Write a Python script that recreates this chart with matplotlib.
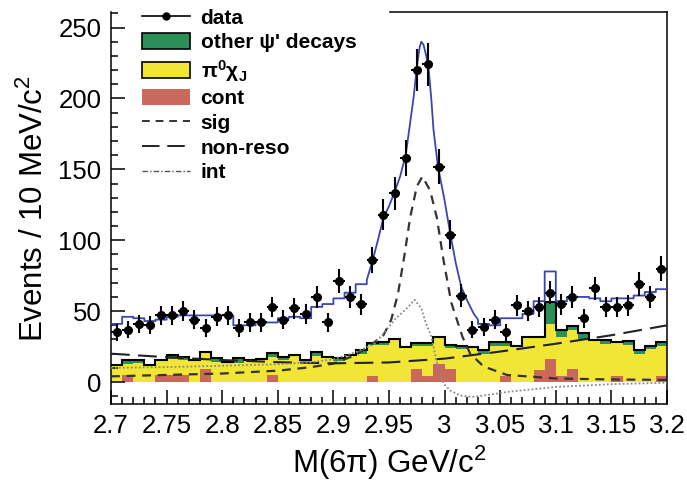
import numpy as np
import matplotlib
matplotlib.use("Agg")
import matplotlib.pyplot as plt
from matplotlib.ticker import MultipleLocator, FuncFormatter
from matplotlib.lines import Line2D
from matplotlib.patches import Patch

plt.rcParams['font.family'] = ['Liberation Sans', 'DejaVu Sans']
plt.rcParams['mathtext.fontset'] = 'custom'
plt.rcParams['mathtext.rm'] = 'Liberation Sans'
plt.rcParams['mathtext.it'] = 'Liberation Sans:italic'
plt.rcParams['mathtext.bf'] = 'Liberation Sans:bold'

# 10 MeV bins, 2.70 - 3.20 GeV
bin_edges = np.round(np.arange(2.70, 3.2001, 0.01), 3)
bin_centers = bin_edges[:-1] + 0.005

data_counts = [35, 37, 41, 40, 47, 47, 50, 44, 38, 46,
               47, 38, 42, 42, 53, 44, 52, 48, 60, 42,
               71, 60, 55, 86, 118, 133, 158, 220, 224, 152,
               104, 61, 37, 39, 44, 35, 54, 50, 53, 63,
               55, 60, 45, 66, 53, 53, 54, 69, 60, 80]

# stacked background histograms (bottom to top)
cont = [0, 5, 0, 0, 5, 5, 5, 0, 9, 0,
        0, 0, 0, 0, 5, 0, 0, 0, 0, 0,
        0, 0, 0, 4, 0, 0, 0, 9, 4, 12.5,
        9, 0, 0, 0, 0, 4, 0, 0, 8.5, 16,
        4, 9, 0, 0, 0, 4, 0, 0, 0, 4]
pi0_chi = [11, 8, 13.5, 11, 10.5, 11, 10.5, 15.5, 12.4, 14.3,
           14.3, 13.6, 15.5, 16, 13, 15.5, 19, 15.5, 18.5, 17.8,
           15, 19, 19.7, 22, 26, 30, 24, 16.6, 21.6, 19.5,
           15, 23.5, 25, 19.5, 25.4, 21.4, 25.4, 31.5, 23, 25,
           27.9, 27.6, 30, 29.6, 26.8, 24, 26, 20, 23, 21.6]
other_psi = [1, 2.5, 2, 1, 0, 3, 2.3, 0, 0, 2.4,
             0, 3.1, 0, 0, 2.8, 2.3, 0, 0, 2.4, 0,
             1.7, 0, 2.6, 1.5, 2.4, 0.5, 1, 2.1, 2.1, 0,
             2, 1.9, 0, 3, 3, 3, 0, 0, 0, 15.5,
             4.7, 2.8, 4.5, 0, 2.8, 0, 2.9, 2.3, 2.4, 2.8]

# total fit (blue): per-bin values outside the peak, curve through the peak
fit_left = [41, 46, 45, 43, 44, 46, 47, 47, 47, 47,
            47, 40, 40, 42, 42, 45, 46, 45, 53, 55,
            59, 63, 69]
fit_peak_x = [2.930, 2.935, 2.940, 2.945, 2.950, 2.955, 2.960, 2.965, 2.972,
              2.975, 2.9775, 2.979, 2.981, 2.9835, 2.9855, 2.988, 2.990,
              2.994, 3.000, 3.005, 3.010, 3.015, 3.020, 3.026, 3.030]
fit_peak_y = [72, 85, 100, 116, 124, 134, 145, 160, 200,
              222, 236, 240, 238, 230, 222, 200, 178,
              152, 128, 105, 84, 67, 58, 48.5, 44]
fit_right = [41, 40, 45, 45, 48, 57, 78, 57, 60, 60,
             59, 57, 59, 59, 61, 63.5, 65.5]

sig_x = [2.70, 2.75, 2.80, 2.85, 2.88, 2.90, 2.92, 2.935, 2.945, 2.952,
         2.958, 2.964, 2.969, 2.975, 2.980, 2.987, 2.993, 2.999, 3.006,
         3.011, 3.016, 3.023, 3.035, 3.056, 3.10, 3.15, 3.20]
sig_y = [4, 5, 6, 8, 10.5, 13, 19, 27, 33, 44,
         62, 90, 116, 138, 145, 135, 116, 86, 56,
         44, 32, 20, 11, 5, 2.5, 1.8, 1.5]

nonreso_x = [2.70, 2.75, 2.80, 2.85, 2.90, 2.95, 3.00, 3.05, 3.10, 3.15, 3.20]
nonreso_y = [20, 17.5, 15.5, 14, 13.2, 13.8, 16.5, 21.5, 27, 33, 40]

int_x = [2.70, 2.75, 2.80, 2.85, 2.88, 2.90, 2.92, 2.937, 2.946, 2.955,
         2.966, 2.973, 2.979, 2.983, 2.988, 2.993, 2.999, 3.005, 3.014,
         3.025, 3.04, 3.056, 3.10, 3.15, 3.20]
int_y = [10, 10.5, 11.5, 12.5, 14, 16, 21, 27, 35, 44,
         52, 58, 52, 42, 32, 14, -1, -6, -9.5,
         -10.5, -9, -7, -3.5, -1.5, -0.5]

c_green = '#2b9058'
c_yellow = '#f1e635'
c_red = '#c9695b'
c_blue = '#3c45ad'

fig = plt.figure(figsize=(6.87, 4.84), dpi=100)
ax = fig.add_axes([0.1616, 0.1653, 0.8093, 0.8099])

# stacked histograms
cont = np.array(cont)
pi0_chi = np.array(pi0_chi)
other_psi = np.array(other_psi)
lefts = bin_edges[:-1]
ax.bar(lefts, cont, width=0.01, align='edge', color=c_red, lw=0, zorder=1)
ax.bar(lefts, pi0_chi, bottom=cont, width=0.01, align='edge', color=c_yellow, lw=0, zorder=1)
ax.bar(lefts, other_psi, bottom=cont + pi0_chi, width=0.01, align='edge', color=c_green, lw=0, zorder=1)
ax.stairs(cont + pi0_chi + other_psi, bin_edges, baseline=None, color='black', lw=1.5, zorder=2)

# fit components
ax.plot(sig_x, sig_y, color='#333333', lw=1.6, dashes=(4, 3), zorder=3)
ax.plot(nonreso_x, nonreso_y, color='#222222', lw=1.5, dashes=(9, 4), zorder=3)
ax.plot(int_x, int_y, color='#8a8a8a', lw=1.3, dashes=(1, 1.2), zorder=3)

# total fit
le = bin_edges[:24]
re = bin_edges[33:]
fx = np.concatenate([np.repeat(le, 2)[1:-1], fit_peak_x, np.repeat(re, 2)[1:-1]])
fy = np.concatenate([np.repeat(fit_left, 2), fit_peak_y, np.repeat(fit_right, 2)])
ax.plot(fx, fy, color=c_blue, lw=1.3, zorder=4)

# data
ax.errorbar(bin_centers, data_counts, yerr=np.sqrt(data_counts), xerr=0.005,
            fmt='o', ms=5.5, color='black', elinewidth=1.5, capsize=0, zorder=5)

ax.set_xlim(2.70, 3.20)
ax.set_ylim(-15.5, 261)
ax.xaxis.set_major_locator(MultipleLocator(0.05))
ax.xaxis.set_minor_locator(MultipleLocator(0.01))
ax.yaxis.set_major_locator(MultipleLocator(50))
ax.yaxis.set_minor_locator(MultipleLocator(10))
ax.xaxis.set_major_formatter(FuncFormatter(lambda v, p: '%g' % round(v, 3)))
ax.tick_params(which='both', direction='in', top=False, right=False, width=1.1)
ax.tick_params(which='major', length=10, labelsize=18.5, pad=7)
ax.tick_params(which='minor', length=5)

for s in ax.spines.values():
    s.set_linewidth(1.1)
ax.spines['top'].set_visible(False)
ax.plot([0.502, 1], [1, 1], transform=ax.transAxes, color='black', lw=1.1, clip_on=False)

ax.set_xlabel('M(6π) GeV/c$^{2}$', fontsize=22.5, labelpad=4)
ax.set_ylabel('Events / 10 MeV/c$^{2}$', fontsize=22.5, labelpad=6)

handles = [
    Line2D([], [], color='black', marker='o', ms=5, lw=1.2),
    Patch(facecolor=c_green, edgecolor='black', lw=1.2),
    Patch(facecolor=c_yellow, edgecolor='black', lw=1.2),
    Patch(facecolor=c_red, edgecolor='none'),
    Line2D([], [], color='#333333', lw=1.4, dashes=(4, 3)),
    Line2D([], [], color='#222222', lw=1.4, dashes=(9, 4)),
    Line2D([], [], color='#555555', lw=1.0, dashes=(4, 1.5, 1, 1.5)),
]
labels = ['data', "other ψ' decays", r'π$^{\mathbf{0}}$χ$_{\mathbf{J}}$', 'cont', 'sig', 'non-reso', 'int']
ax.legend(handles, labels, loc='upper left', bbox_to_anchor=(0.03, 1.046), frameon=False,
          prop={'size': 15, 'weight': 'bold'}, handlelength=2.3, handleheight=0.8,
          handletextpad=0.5, labelspacing=0.26, borderpad=0.2)

fig.savefig('out.png', dpi=100)
